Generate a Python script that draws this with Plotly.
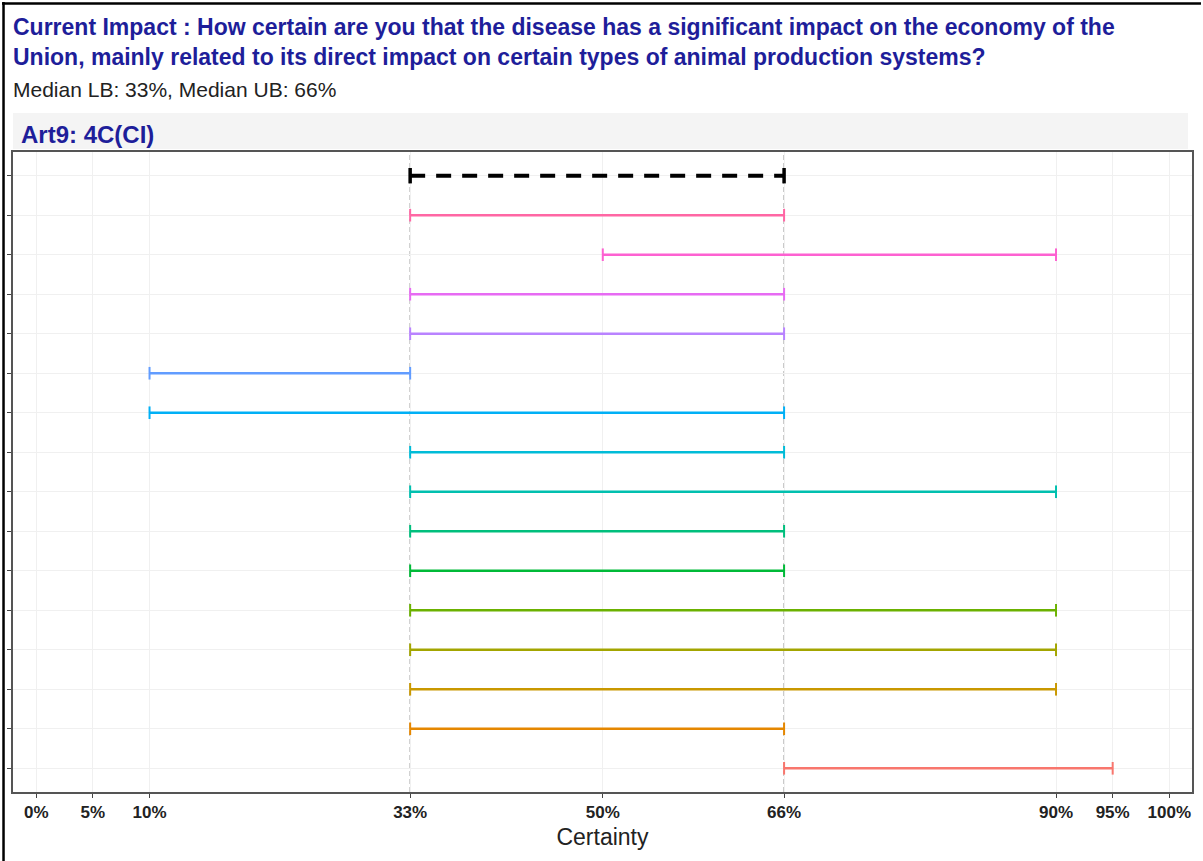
import plotly.graph_objects as go

# ---------------- data ----------------
# rows listed bottom -> top; the median interval is drawn above them
row_lb = [66, 33, 33, 33, 33, 33, 33, 33, 33, 10, 10, 33, 33, 50, 33]
row_ub = [95, 66, 90, 90, 90, 66, 66, 90, 66, 66, 33, 66, 66, 90, 66]
row_colors = ["#F8766D", "#E58700", "#C99800", "#A3A500", "#6BB100",
              "#00BA38", "#00BF7D", "#00C0AF", "#00BCD8", "#00B0F6",
              "#619CFF", "#B983FF", "#E76BF3", "#FD61D1", "#FF67A4"]
median_lb = 33
median_ub = 66
tick_vals = [0, 5, 10, 33, 50, 66, 90, 95, 100]
tick_text = ["0%", "5%", "10%", "33%", "50%", "66%", "90%", "95%", "100%"]

title_line1 = "Current Impact : How certain are you that the disease has a significant impact on the economy of the"
title_line2 = "Union, mainly related to its direct impact on certain types of animal production systems?"
subtitle = f"Median LB: {median_lb}%, Median UB: {median_ub}%"
strip_label = "Art9: 4C(CI)"
x_title = "Certainty"

# ---------------- layout geometry (pixels) ----------------
WIDTH, HEIGHT = 1203, 861
L, R, T, B = 12, 1194, 152, 792
PW, PH = R - L, B - T


def px(xp):
    return (xp - L) / PW


def py(yp):
    return (B - yp) / PH


NAVY = "#1E1E9A"
FONT = "Liberation Sans, Arial, sans-serif"

fig = go.Figure()

n = len(row_lb)
for i in range(n):
    c = row_colors[i]
    fig.add_trace(go.Scatter(
        x=[row_lb[i], row_ub[i]], y=[i, i],
        mode="lines+markers",
        line=dict(color=c, width=2.5),
        marker=dict(symbol="line-ns", size=9, color=c, line=dict(color=c, width=2)),
        hoverinfo="x+y", showlegend=False,
    ))

# median interval (top row)
fig.add_trace(go.Scatter(
    x=[median_lb, median_ub], y=[n, n],
    mode="lines+markers",
    line=dict(color="black", width=4, dash="15px,11px"),
    marker=dict(symbol="line-ns", size=11, color="black", line=dict(color="black", width=3.5)),
    showlegend=False,
))

shapes = []
for v in (median_lb, median_ub):
    shapes.append(dict(type="line", xref="x", yref="paper", x0=v, x1=v, y0=0, y1=1,
                       line=dict(color="#808080", width=1, dash="5px,3px"), layer="below"))

# strip band behind panel label
shapes.append(dict(type="rect", xref="paper", yref="paper",
                   x0=px(12), x1=px(1190), y0=py(149), y1=py(113),
                   fillcolor="#F4F4F4", line=dict(width=0), layer="below"))
# outer frame (top and left edges)
shapes.append(dict(type="line", xref="paper", yref="paper",
                   x0=px(1), x1=px(1203), y0=py(3.5), y1=py(3.5),
                   line=dict(color="black", width=2.5)))
shapes.append(dict(type="line", xref="paper", yref="paper",
                   x0=px(2.5), x1=px(2.5), y0=py(2), y1=py(861),
                   line=dict(color="black", width=2.5)))

annotations = [
    dict(text=f"<b>{title_line1}<br>{title_line2}</b>", xref="paper", yref="paper",
         x=px(10), y=py(42), xanchor="left", yanchor="middle", align="left", showarrow=False,
         font=dict(family=FONT, size=23, color=NAVY)),
    dict(text=subtitle, xref="paper", yref="paper", x=px(10), y=py(89),
         xanchor="left", yanchor="middle", showarrow=False,
         font=dict(family=FONT, size=21, color="#222222")),
    dict(text=f"<b>{strip_label}</b>", xref="paper", yref="paper", x=px(18), y=py(134),
         xanchor="left", yanchor="middle", showarrow=False,
         font=dict(family=FONT, size=24, color=NAVY)),
]

fig.update_layout(
    width=WIDTH, height=HEIGHT,
    margin=dict(l=L, r=WIDTH - R, t=T, b=HEIGHT - B, pad=0),
    paper_bgcolor="white", plot_bgcolor="white",
    shapes=shapes, annotations=annotations,
    font=dict(family=FONT, color="#222222"),
    xaxis=dict(
        range=[-2.05, 102.0], tickvals=tick_vals, ticktext=tick_text,
        tickfont=dict(family=FONT, size=17, color="#222222", weight="bold"),
        ticks="outside", ticklen=4, tickcolor="#444444",
        showgrid=True, gridcolor="#F0F0F0", gridwidth=1, zeroline=False,
        showline=True, linecolor="#555555", linewidth=1.5, mirror=True,
        title=dict(text=x_title, font=dict(family=FONT, size=23, color="#222222"), standoff=8),
    ),
    yaxis=dict(
        range=[-0.6, n + 0.6], tickvals=list(range(n + 1)), ticktext=[""] * (n + 1),
        ticks="outside", ticklen=4, tickcolor="#444444",
        showgrid=True, gridcolor="#F0F0F0", gridwidth=1, zeroline=False,
        showline=True, linecolor="#555555", linewidth=1.5, mirror=True,
    ),
)

fig.write_html("out.html", config={"displayModeBar": False},
               post_script="document.body.style.margin='0px';document.body.style.overflow='hidden';")
